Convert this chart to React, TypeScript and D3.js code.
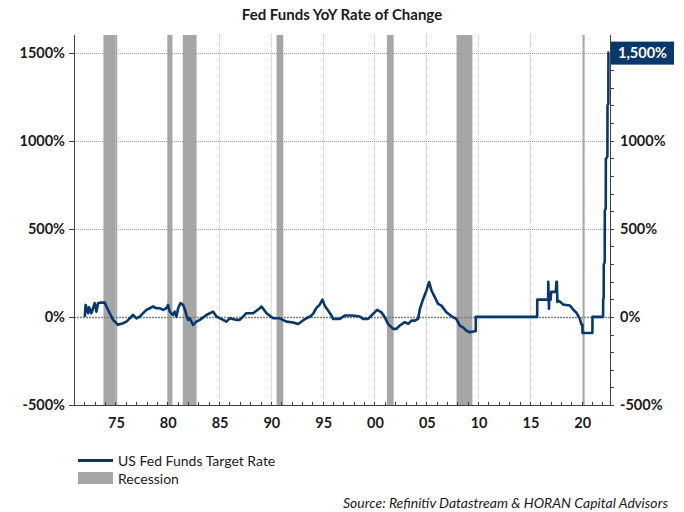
import React from "react";
import * as d3 from "d3";

const titleText = "Fed Funds YoY Rate of Change";
const seriesName = "US Fed Funds Target Rate";
const recessionName = "Recession";
const sourceText = "Source: Refinitiv Datastream & HORAN Capital Advisors";

const years = [
  1972.04, 1972.12, 1972.36, 1972.45, 1972.68, 1972.84, 1973.0, 1973.17, 1973.32, 1973.55,
  1973.97, 1974.13, 1974.45, 1974.77, 1975.25, 1975.73, 1976.06, 1976.38, 1976.7, 1977.03,
  1977.35, 1977.67, 1977.99, 1978.31, 1978.63, 1978.96, 1979.28, 1979.6, 1979.92, 1980.08,
  1980.24, 1980.56, 1980.72, 1980.89, 1981.05, 1981.27, 1981.53, 1981.69, 1981.85, 1982.01,
  1982.17, 1982.49, 1982.82, 1983.14, 1983.78, 1984.43, 1984.75, 1985.39, 1985.71, 1986.03,
  1986.68, 1987.0, 1987.64, 1988.29, 1988.93, 1989.1, 1989.58, 1990.22, 1990.86, 1991.5,
  1992.15, 1992.63, 1993.1, 1993.5, 1993.8, 1994.07, 1994.4, 1994.72, 1994.98, 1995.2,
  1995.52, 1995.85, 1996.0, 1996.65, 1997.13, 1997.93, 1998.58, 1998.9, 1999.38, 1999.87,
  2000.25, 2000.67, 2000.99, 2001.31, 2001.8, 2002.12, 2002.44, 2002.93, 2003.25, 2003.57,
  2003.89, 2004.21, 2004.38, 2004.7, 2005.02, 2005.27, 2005.5, 2005.82, 2006.14, 2006.46,
  2006.94, 2007.58, 2007.9, 2008.23, 2008.55, 2008.87, 2009.19, 2009.67, 2009.77, 2009.78,
  2015.7, 2015.71, 2016.76, 2016.77, 2016.84, 2016.86, 2017.0, 2017.05, 2017.5, 2017.56,
  2017.6, 2017.65, 2017.8, 2018.05, 2018.21, 2018.5, 2018.85, 2019.0, 2019.17, 2019.5,
  2019.81, 2019.98, 2020.07, 2020.08, 2021.03, 2021.04, 2022.06, 2022.07, 2022.12, 2022.13,
  2022.22, 2022.23, 2022.32, 2022.33, 2022.48, 2022.49, 2022.57, 2022.58, 2022.65,
];

const values = [
  0, 68, 21, 55, 21, 49, 78, 30, 78, 81,
  81, 59, 21, -17, -45, -36, -27, -8, 11, -8,
  2, 21, 40, 49, 59, 49, 49, 40, 49, 68,
  30, 11, 30, 2, 49, 78, 68, 44, 11, -17,
  -8, -45, -27, -17, 11, 30, 2, -17, -27, -8,
  -17, -17, 21, 21, 49, 59, 21, -8, -8, -27,
  -32, -40, -20, -5, 2, 17, 51, 70, 98, 64,
  36, 8, -11, -11, 8, 8, 2, -11, -11, 17,
  40, 26, -2, -40, -68, -68, -49, -30, -40, -21,
  -21, -11, 45, 102, 150, 197, 150, 112, 74, 64,
  26, -2, -11, -49, -59, -78, -87, -81, -81, 0,
  0, 98, 98, 199, 47, 98, 98, 142, 142, 199,
  199, 85, 90, 80, 70, 68, 65, 55, 42, 23,
  -10, -44, -44, -91, -91, 0, 0, 99, 110, 298,
  310, 602, 615, 896, 910, 1200, 1210, 1500, 1500,
];

const recessionStarts = [1973.84, 1980.0, 1981.5, 1990.55, 2001.2, 2007.92, 2020.1];
const recessionEnds = [1975.17, 1980.5, 1982.83, 1991.2, 2001.85, 2009.45, 2020.28];

const xTickYears = [1975, 1980, 1985, 1990, 1995, 2000, 2005, 2010, 2015, 2020];
const xTickLabels = ["75", "80", "85", "90", "95", "00", "05", "10", "15", "20"];
const yTicks = [-500, 0, 500, 1000, 1500];
const yTickLabels = ["-500%", "0%", "500%", "1000%", "1500%"];
const lastLabel = "1,500%";

const W = 684;
const H = 512;
const L = 74;
const R = 610;
const T = 35;
const B = 405;

const NAVY = "#06386b";
const GREY = "#a6a6a6";
const FONT = "Lato, 'Open Sans', sans-serif";

export default function App() {
  const x = d3.scaleLinear().domain([1971, 2022.73]).range([L, R]);
  const y = d3.scaleLinear().domain([-500, 1600]).range([B, T]);
  const data = years.map((yr, i) => [yr, values[i]] as [number, number]);
  const line = d3
    .line<[number, number]>()
    .x((d) => x(d[0]))
    .y((d) => y(d[1]));

  const minorYears = d3.range(1972, 2023);
  const rightMinor = d3.range(-500, 1600, 100);
  const lastVal = values[values.length - 1];

  return (
    <svg
      width={W}
      height={H}
      style={{ position: "absolute", left: 0, top: 0, background: "#fff" }}
      fontFamily={FONT}
    >
      <rect x={0} y={0} width={W} height={H} fill="#fff" />
      <text x={342} y={20} textAnchor="middle" fontSize={15} fontWeight={700} fill="#1a1a1a">
        {titleText}
      </text>

      {recessionStarts.map((s, i) => (
        <rect
          key={"rec" + i}
          x={x(s)}
          y={T}
          width={Math.max(1.5, x(recessionEnds[i]) - x(s))}
          height={B - T}
          fill={GREY}
        />
      ))}

      {xTickYears.map((yr) => (
        <line
          key={"vg" + yr}
          x1={Math.round(x(yr)) + 0.5}
          x2={Math.round(x(yr)) + 0.5}
          y1={T}
          y2={B}
          stroke="#c8c8c8"
          strokeWidth={1}
          strokeDasharray="1,1"
        />
      ))}

      {yTicks
        .filter((v) => v > -500)
        .map((v) => (
          <line
            key={"hg" + v}
            x1={L}
            x2={R}
            y1={Math.round(y(v)) + 0.5}
            y2={Math.round(y(v)) + 0.5}
            stroke={v === 0 ? "#7f7f7f" : "#9a9a9a"}
            strokeWidth={v === 0 ? 1.5 : 1}
            strokeDasharray={v === 0 ? "2,1" : "1,1"}
          />
        ))}

      <path d={line(data) || ""} fill="none" stroke={NAVY} strokeWidth={2.6} strokeLinejoin="round" />

      <line x1={L + 0.5} x2={L + 0.5} y1={T} y2={B} stroke="#404040" />
      <line x1={R + 0.5} x2={R + 0.5} y1={T} y2={B} stroke="#404040" />
      <line x1={L} x2={R} y1={B + 0.5} y2={B + 0.5} stroke="#404040" />

      {yTicks.map((v) => (
        <line
          key={"lt" + v}
          x1={L - 5}
          x2={L}
          y1={Math.round(y(v)) + 0.5}
          y2={Math.round(y(v)) + 0.5}
          stroke="#404040"
        />
      ))}
      {rightMinor.map((v) => (
        <line
          key={"rt" + v}
          x1={R}
          x2={R + 4}
          y1={Math.round(y(v)) + 0.5}
          y2={Math.round(y(v)) + 0.5}
          stroke="#404040"
        />
      ))}
      {minorYears.map((yr) => (
        <line
          key={"xt" + yr}
          x1={Math.round(x(yr)) + 0.5}
          x2={Math.round(x(yr)) + 0.5}
          y1={B - 3}
          y2={B}
          stroke="#404040"
        />
      ))}

      {yTicks.map((v, i) => (
        <text
          key={"ll" + v}
          x={65}
          y={y(v) + 5}
          textAnchor="end"
          fontSize={14.5}
          fontWeight={700}
          fill="#1a1a1a"
        >
          {yTickLabels[i]}
        </text>
      ))}
      {yTicks
        .filter((v) => v < 1500)
        .map((v) => (
          <text
            key={"rl" + v}
            x={620}
            y={y(v) + 5}
            textAnchor="start"
            fontSize={14.5}
            fontWeight={700}
            fill="#1a1a1a"
          >
            {yTickLabels[yTicks.indexOf(v)]}
          </text>
        ))}
      <rect x={R + 1} y={y(lastVal) - 11} width={63} height={23} fill={NAVY} />
      <text
        x={R + 1 + 31.5}
        y={y(lastVal) + 5.5}
        textAnchor="middle"
        fontSize={14.5}
        fontWeight={700}
        fill="#fff"
      >
        {lastLabel}
      </text>

      {xTickYears.map((yr, i) => (
        <text
          key={"xl" + yr}
          x={x(yr) + 1}
          y={428}
          textAnchor="middle"
          fontSize={14.5}
          fontWeight={700}
          fill="#1a1a1a"
        >
          {xTickLabels[i]}
        </text>
      ))}

      <line x1={78} x2={113} y1={460.5} y2={460.5} stroke={NAVY} strokeWidth={3} />
      <text x={118} y={466} fontSize={14} fill="#1a1a1a">
        {seriesName}
      </text>
      <rect x={78} y={472} width={35} height={12} fill={GREY} />
      <text x={118} y={484} fontSize={14} fill="#1a1a1a">
        {recessionName}
      </text>

      <text x={668} y={508} textAnchor="end" fontSize={14} fontStyle="italic" fill="#1a1a1a">
        {sourceText}
      </text>
    </svg>
  );
}
